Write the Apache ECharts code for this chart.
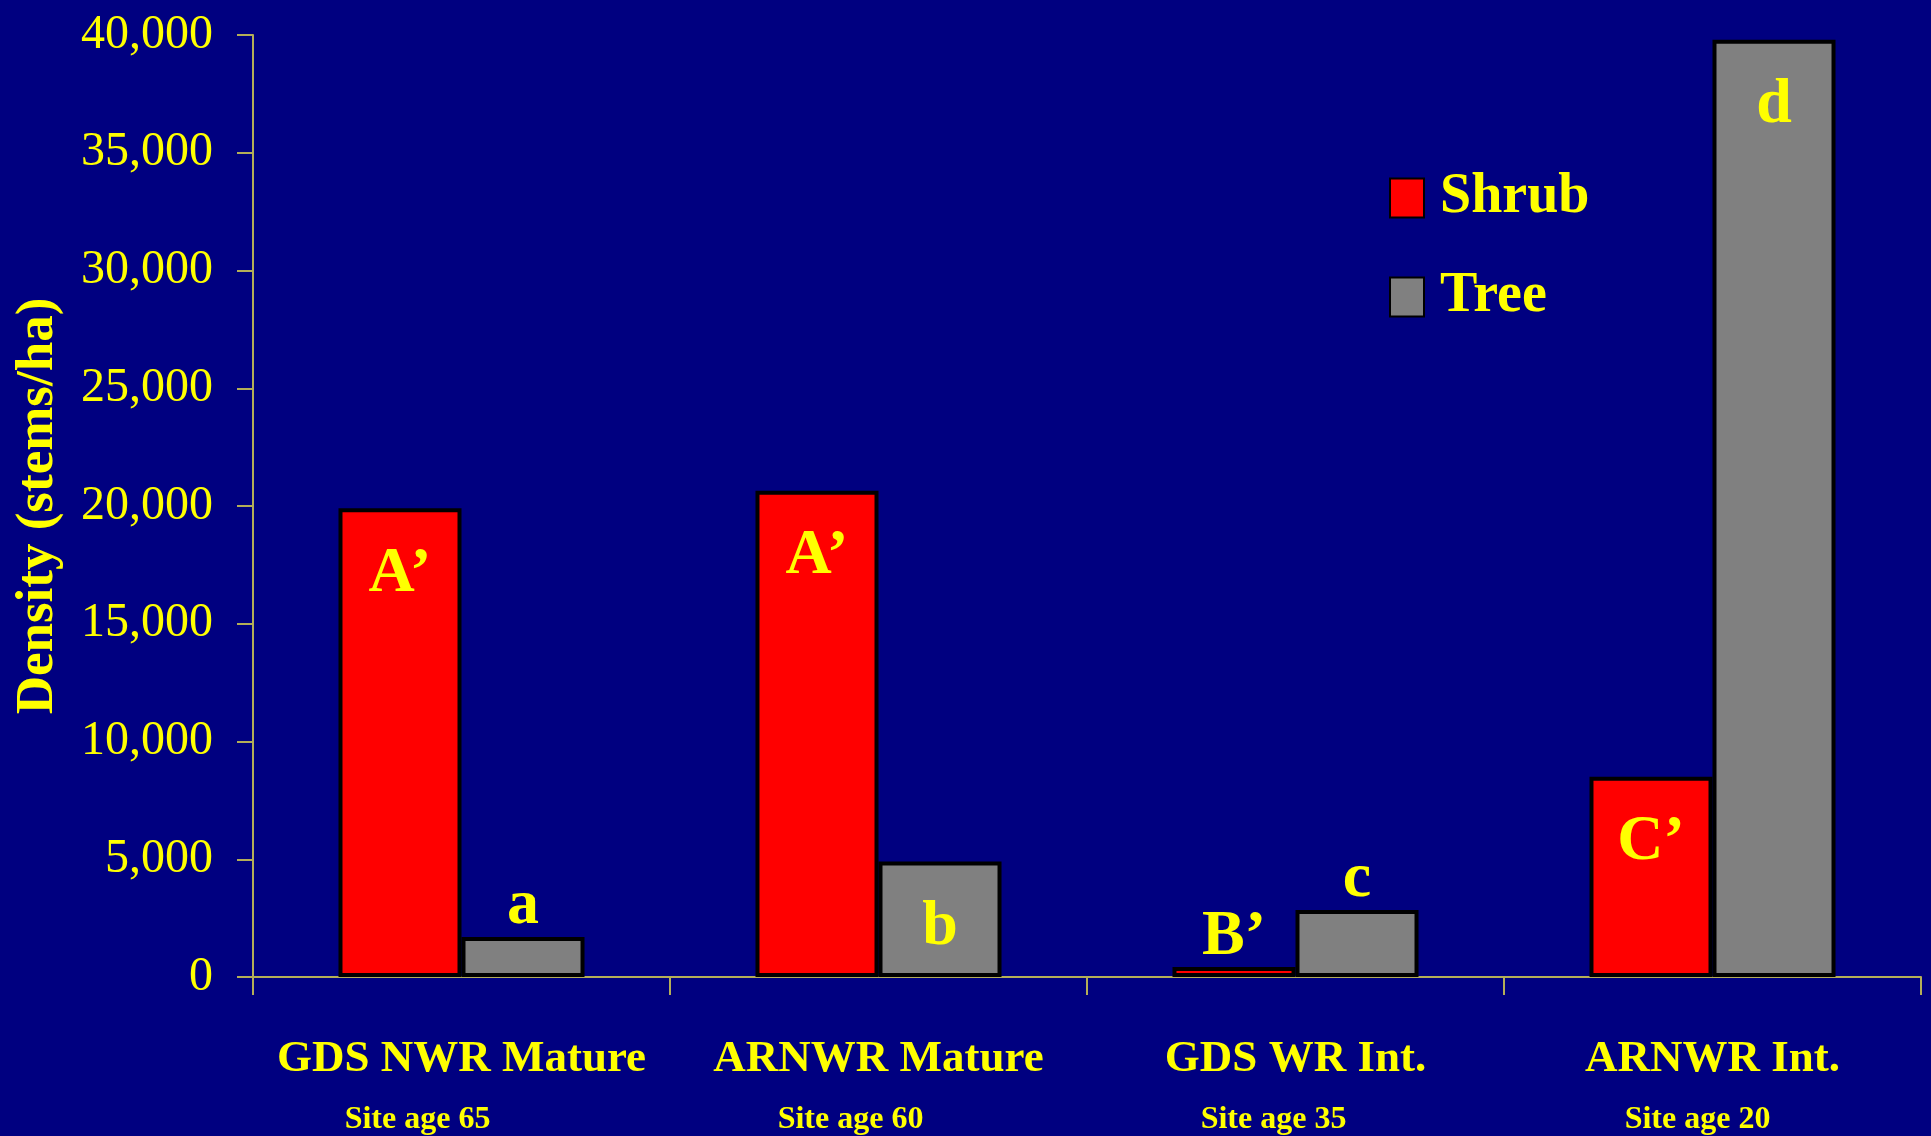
<!DOCTYPE html>
<html>
<head>
<meta charset="utf-8">
<script src="https://cdn.jsdelivr.net/npm/echarts@6/dist/echarts.min.js"></script>
<style>
  html, body { margin: 0; padding: 0; background: #000080; }
  #chart { width: 1931px; height: 1136px; }
</style>
</head>
<body>
<div id="chart"></div>
<script>
// Stem density by site (stems/ha)
const sites = ["GDS NWR Mature", "ARNWR Mature", "GDS WR Int.", "ARNWR Int."];
const siteAges = ["Site age 65", "Site age 60", "Site age 35", "Site age 20"];
const shrubDensity = [19900, 20650, 420, 8500];
const treeDensity = [1700, 4900, 2850, 39800];
// Significance letters drawn on each bar
const shrubLetters = ["A\u2019", "A\u2019", "B\u2019", "C\u2019"];
const treeLetters = ["a", "b", "c", "d"];

const FONT = "'Liberation Serif', 'Times New Roman', serif";
const YELLOW = "#FFFF00";
const AXIS = "#B4AE58";

// Short bars carry their letter above the bar, tall ones inside near the top
function letterLabel(value, text) {
  const inside = value >= 4000;
  return {
    show: true,
    formatter: text,
    position: inside ? "insideTop" : "top",
    distance: inside ? 34 : -2,
    color: YELLOW,
    fontFamily: FONT,
    fontWeight: "bold",
    fontSize: 64
  };
}

// Second-line offsets that shift the site-age line slightly left of centre
const agePad = [88, 56, 44, 30];
const rich = {
  name: { fontFamily: FONT, fontWeight: "bold", fontSize: 45, color: YELLOW, lineHeight: 70 },
};
agePad.forEach((p, i) => {
  rich["age" + i] = {
    fontFamily: FONT, fontWeight: "bold", fontSize: 32, color: YELLOW,
    lineHeight: 52, padding: [0, p, 0, 0]
  };
});

const chart = echarts.init(document.getElementById("chart"), null, { renderer: "canvas" });
chart.setOption({
  backgroundColor: "#000080",
  animation: false,
  grid: { left: 253, right: 10, top: 35, bottom: 157 },
  legend: {
    orient: "vertical",
    left: 1389,
    top: 170,
    padding: 0,
    itemWidth: 34,
    itemHeight: 39,
    itemGap: 43,
    icon: "rect",
    textStyle: {
      color: YELLOW, fontFamily: FONT, fontWeight: "bold", fontSize: 56,
      padding: [0, 0, 0, 11]
    },
    data: ["Shrub", "Tree"]
  },
  xAxis: {
    type: "category",
    data: sites,
    axisLine: { lineStyle: { color: AXIS, width: 2 } },
    axisTick: { show: true, length: 18, lineStyle: { color: AXIS, width: 2 } },
    axisLabel: {
      interval: 0,
      margin: 47,
      formatter: (v, i) => "{name|" + v + "}\n{age" + i + "|" + siteAges[i] + "}",
      rich: rich
    }
  },
  yAxis: {
    type: "value",
    min: 0,
    max: 40000,
    interval: 5000,
    name: "Density (stems/ha)",
    nameLocation: "middle",
    nameRotate: 90,
    nameGap: 188,
    nameTextStyle: { color: YELLOW, fontFamily: FONT, fontWeight: "bold", fontSize: 53 },
    axisLine: { show: true, lineStyle: { color: AXIS, width: 2 } },
    axisTick: { show: true, length: 16, lineStyle: { color: AXIS, width: 2 } },
    splitLine: { show: false },
    axisLabel: {
      margin: 40,
      color: YELLOW,
      fontFamily: FONT,
      fontSize: 48,
      formatter: v => v.toLocaleString("en-US")
    }
  },
  series: [
    {
      name: "Shrub",
      type: "bar",
      barGap: "0%",
      barCategoryGap: "41%",
      itemStyle: { color: "#FF0000", borderColor: "#000000", borderWidth: 4 },
      data: shrubDensity.map((v, i) => ({ value: v, label: letterLabel(v, shrubLetters[i]) }))
    },
    {
      name: "Tree",
      type: "bar",
      itemStyle: { color: "#808080", borderColor: "#000000", borderWidth: 4 },
      data: treeDensity.map((v, i) => ({ value: v, label: letterLabel(v, treeLetters[i]) }))
    }
  ]
});
</script>
</body>
</html>
